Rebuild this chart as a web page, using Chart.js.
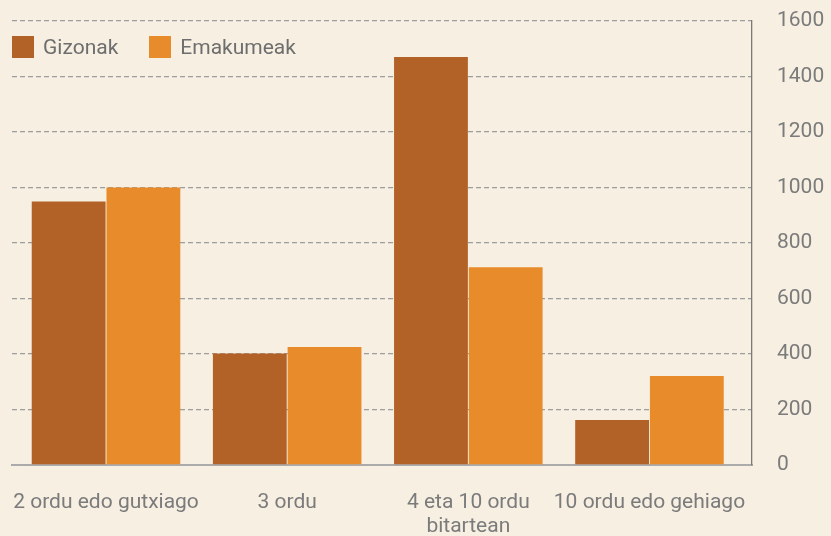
<!DOCTYPE html>
<html>
<head>
<meta charset="utf-8">
<script src="https://cdn.jsdelivr.net/npm/chart.js@4"></script>
<style>
  html, body { margin: 0; padding: 0; background: #f6efe2; }
  #wrap { position: relative; width: 831px; height: 536px; }
  #legend { position: absolute; left: 12px; top: 36px; display: flex; font: 21px Roboto, sans-serif; color: #6e6e6e; }
  .item { display: flex; align-items: center; height: 22px; margin-right: 31px; }
  .box { width: 22px; height: 22px; margin-right: 9px; }
</style>
</head>
<body>
<div id="wrap">
  <canvas id="chart" width="831" height="536"></canvas>
  <div id="legend"></div>
</div>
<script>
// datuak
const categories = [
    "2 ordu edo gutxiago",
    "3 ordu",
    ["4 eta 10 ordu", "bitartean"],
    "10 ordu edo gehiago"
];
const seriesNames = ["Gizonak", "Emakumeak"];
const gizonak = [950, 402, 1470, 162];
const emakumeak = [1000, 425, 713, 321];
const colors = ['#b36227', '#e88b2b'];
const yTicks = [0, 200, 400, 600, 800, 1000, 1200, 1400, 1600];

const textColor = '#7b7b7b';

const ctx = document.getElementById('chart').getContext('2d');
const chart = new Chart(ctx, {
    type: 'bar',
    data: {
        datasets: [gizonak, emakumeak].map((values, i) => ({
            label: seriesNames[i],
            data: values.map((v, idx) => ({ x: idx, y: v })),
            backgroundColor: colors[i],
            categoryPercentage: 0.825,
            barPercentage: 0.988
        }))
    },
    options: {
        responsive: false,
        animation: false,
        layout: { padding: { left: 12, top: 21, right: 0, bottom: 0 } },
        plugins: {
            legend: { display: false },
            tooltip: { enabled: false }
        },
        scales: {
            x: {
                type: 'linear',
                offset: false,
                min: -0.519,
                max: 3.566,
                grid: { display: false, drawTicks: false, offset: false },
                border: { display: true, color: '#ababab', width: 2 },
                ticks: {
                    stepSize: 1,
                    includeBounds: false,
                    autoSkip: false,
                    maxRotation: 0,
                    padding: 26,
                    color: textColor,
                    font: { family: 'Roboto', size: 21, lineHeight: 1.15 },
                    callback: v => Number.isInteger(v) ? categories[v] : ''
                },
                afterFit: scale => {
                    scale.height = 71;
                    scale.paddingLeft = 0; scale.paddingRight = 0;
                    scale.paddingTop = 0; scale.paddingBottom = 0;
                }
            },
            y: {
                position: 'right',
                min: 0,
                max: 1600,
                afterBuildTicks: scale => { scale.ticks = yTicks.map(v => ({ value: v })); },
                grid: {
                    drawTicks: false,
                    color: c => c.tick && c.tick.value === 0 ? 'rgba(0,0,0,0)' : '#9d9d9d',
                    lineWidth: 1.3
                },
                border: { display: true, color: '#7a7a7a', width: 1.3, dash: [5, 3] },
                ticks: {
                    padding: 25,
                    color: textColor,
                    font: { family: 'Roboto', size: 21 },
                    callback: v => String(v)
                },
                afterFit: scale => {
                    scale.width = 79;
                    scale.paddingTop = 0; scale.paddingBottom = 0;
                }
            }
        }
    }
});

// legend
const legend = document.getElementById('legend');
chart.data.datasets.forEach(ds => {
    const item = document.createElement('div');
    item.className = 'item';
    item.innerHTML = `<span class="box" style="background:${ds.backgroundColor}"></span>${ds.label}`;
    legend.appendChild(item);
});
</script>
</body>
</html>
